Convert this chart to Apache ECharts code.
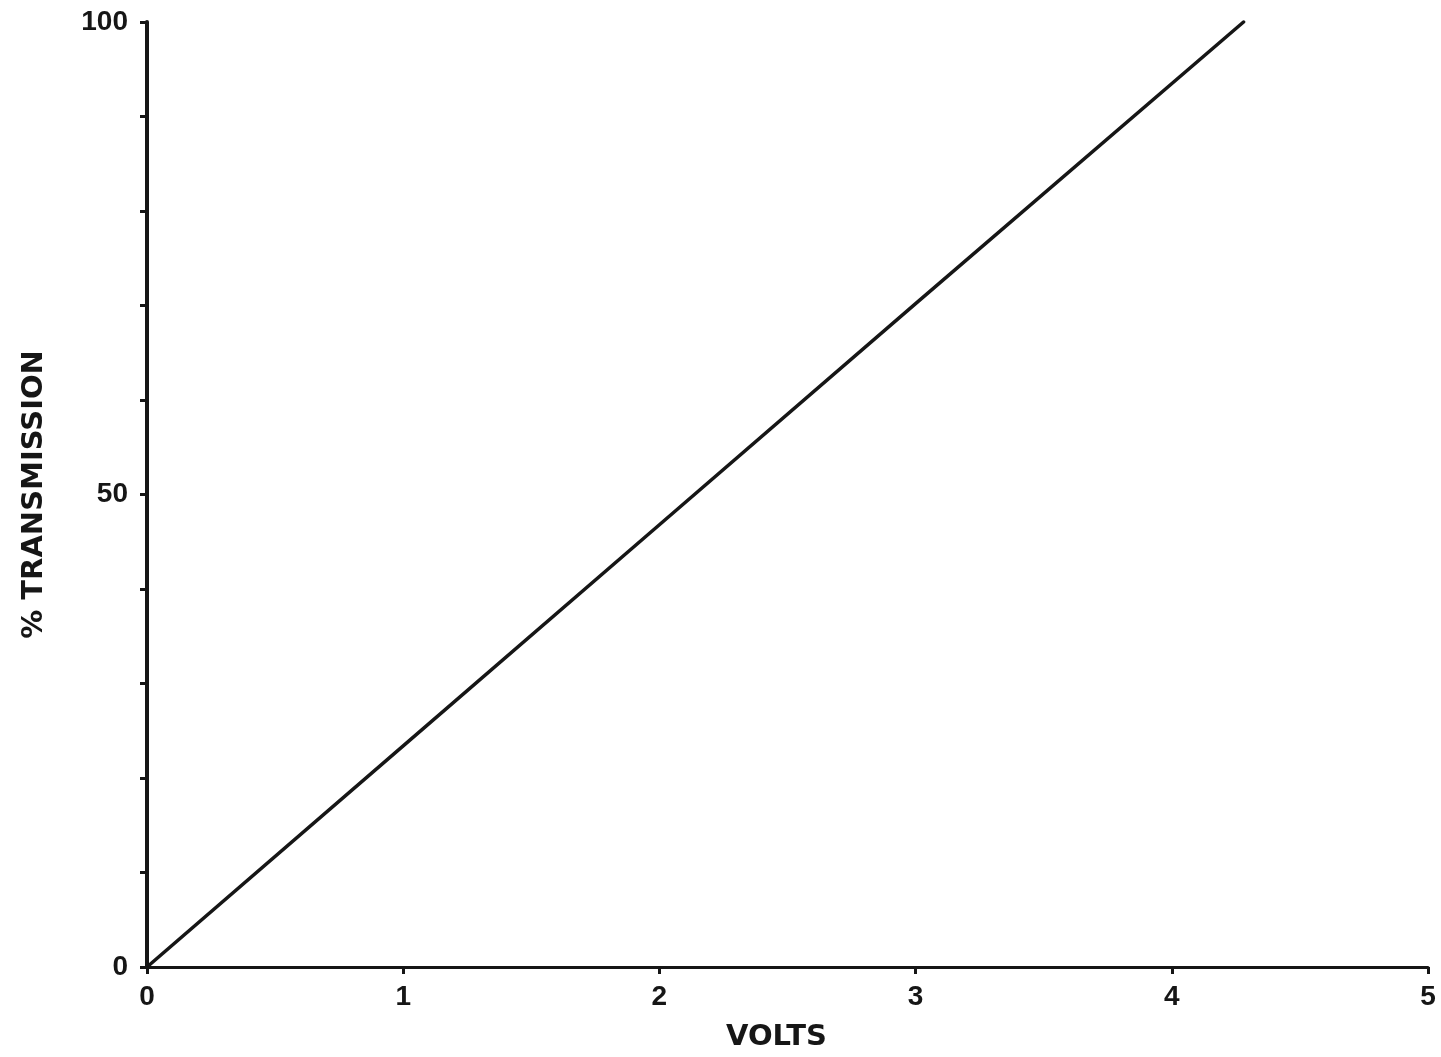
<!DOCTYPE html>
<html>
<head>
<meta charset="utf-8">
<title>% Transmission vs Volts</title>
<script src="https://cdn.jsdelivr.net/npm/echarts@6/dist/echarts.min.js"></script>
<style>
  html, body { margin: 0; padding: 0; background: #ffffff; }
  #chart { width: 1441px; height: 1057px; }
</style>
</head>
<body>
<div id="chart"></div>
<script>
// Transmission response: volts applied vs. percent transmission
const volts = [0, 1, 2, 3, 4.28];
const transmission = [0, 23.4, 46.8, 70.2, 100];

// Labelled ticks (every other tick is drawn unlabelled)
const xTickLabels = [0, 1, 2, 3, 4, 5];
const yTickLabels = [0, 50, 100];

const ink = '#161616';
const font = '"Liberation Sans", Arial, Helvetica, sans-serif';
const titleFont = '"DejaVu Sans", "Liberation Sans", sans-serif';

const chart = echarts.init(document.getElementById('chart'), null, { renderer: 'canvas' });

chart.setOption({
  backgroundColor: '#ffffff',
  animation: false,
  grid: { left: 147, right: 13, top: 22, bottom: 87, containLabel: false },
  xAxis: {
    type: 'value',
    min: 0,
    max: 5,
    interval: 1,
    name: 'VOLTS',
    nameLocation: 'middle',
    nameGap: 56,
    nameTextStyle: {
      color: ink, fontFamily: titleFont, fontWeight: 'bold', fontSize: 29,
      padding: [0, 22, 0, 0]
    },
    axisLine: { show: true, onZero: false, lineStyle: { color: ink, width: 3 } },
    axisTick: { show: true, inside: false, length: 7, lineStyle: { color: ink, width: 3 } },
    axisLabel: {
      color: ink, fontFamily: font, fontWeight: 'bold', fontSize: 28, margin: 16,
      formatter: v => (xTickLabels.includes(v) ? String(v) : '')
    },
    splitLine: { show: false }
  },
  yAxis: {
    type: 'value',
    min: 0,
    max: 100,
    interval: 10,
    name: '% TRANSMISSION',
    nameLocation: 'middle',
    nameRotate: 90,
    nameGap: 98,
    nameTextStyle: { color: ink, fontFamily: titleFont, fontWeight: 'bold', fontSize: 29 },
    axisLine: { show: true, onZero: false, lineStyle: { color: ink, width: 4 } },
    axisTick: { show: true, inside: false, length: 7, lineStyle: { color: ink, width: 3 } },
    axisLabel: {
      color: ink, fontFamily: font, fontWeight: 'bold', fontSize: 28, margin: 19,
      formatter: v => (yTickLabels.includes(v) ? String(v) : '')
    },
    splitLine: { show: false }
  },
  series: [{
    type: 'line',
    data: volts.map((v, i) => [v, transmission[i]]),
    showSymbol: false,
    lineStyle: { color: ink, width: 3.5, cap: 'round' },
    clip: false
  }]
});
</script>
</body>
</html>
